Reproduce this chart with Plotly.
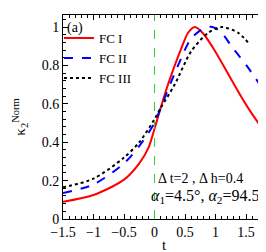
import plotly.graph_objects as go

t1 = [-1.5, -1.0, -0.5, -0.25, -0.1, 0.0, 0.1, 0.22, 0.44, 0.55, 0.66, 0.8, 1.0, 1.26, 1.53, 1.8]
fc1 = [0.09, 0.125, 0.205, 0.29, 0.37, 0.47, 0.578, 0.70, 0.89, 0.97, 1.0, 0.965, 0.87, 0.725, 0.58, 0.455]

t2 = [-1.5, -1.0, -0.5, -0.25, 0.0, 0.1, 0.385, 0.6, 0.82, 0.95, 1.1, 1.26, 1.53, 1.8]
fc2 = [0.135, 0.18, 0.29, 0.38, 0.50, 0.578, 0.80, 0.94, 0.995, 1.0, 0.97, 0.90, 0.79, 0.665]

t3 = [-1.5, -1.0, -0.5, -0.25, 0.0, 0.1, 0.33, 0.6, 0.88, 1.1, 1.37, 1.53]
fc3 = [0.165, 0.21, 0.32, 0.40, 0.52, 0.578, 0.70, 0.873, 0.97, 1.0, 0.97, 0.92]

FONT = "Liberation Serif"

fig = go.Figure()
fig.add_trace(go.Scatter(x=t1, y=fc1, mode="lines", name="FC I",
                         line=dict(color="#ff0000", width=2, shape="spline", smoothing=0.8)))
fig.add_trace(go.Scatter(x=t2, y=fc2, mode="lines", name="FC II",
                         line=dict(color="#0000ff", width=2, dash="dash", shape="spline", smoothing=0.8)))
fig.add_trace(go.Scatter(x=t3, y=fc3, mode="lines", name="FC III",
                         line=dict(color="#000000", width=2, dash="dot", shape="spline", smoothing=0.8)))

fig.add_shape(type="line", x0=0, x1=0, y0=0, y1=1, yref="paper",
              line=dict(color="#33cc33", width=1, dash="dash"))

fig.add_annotation(x=0.01, y=0.985, xref="paper", yref="paper", text="(a)",
                   showarrow=False, xanchor="left", yanchor="top",
                   font=dict(family=FONT, size=14, color="black"))
fig.add_annotation(x=0.68, y=0.2, xref="paper", yref="paper",
                   text="Δ t=2 , Δ h=0.4",
                   showarrow=False, xanchor="center", yanchor="middle",
                   font=dict(family=FONT, size=14, color="black"))
fig.add_annotation(x=1.015, y=0.11, xref="paper", yref="paper",
                   text="<i>α</i><sub>1</sub>=4.5°, <i>α</i><sub>2</sub>=94.5°",
                   showarrow=False, xanchor="right", yanchor="middle",
                   font=dict(family=FONT, size=16, color="black"))

axis_common = dict(showline=True, linecolor="black", linewidth=1, mirror="allticks",
                   ticks="inside", ticklen=5, tickcolor="black", showgrid=False,
                   zeroline=False, tickfont=dict(family=FONT, size=14, color="black"))

fig.update_xaxes(range=[-1.5, 1.81], dtick=0.5, tick0=0,
                 minor=dict(dtick=0.1, ticks="inside", ticklen=3, tickcolor="black"),
                 title=dict(text="t", font=dict(family=FONT, size=15, color="black"), standoff=0),
                 **axis_common)
fig.update_yaxes(range=[0, 1.0625], dtick=0.2, tick0=0,
                 minor=dict(dtick=0.04, ticks="inside", ticklen=3, tickcolor="black"),
                 title=dict(text="κ<sub>2</sub><sup>Norm</sup>", font=dict(family=FONT, size=15, color="black"), standoff=12),
                 **axis_common)

fig.update_layout(
    width=266, height=252,
    margin=dict(l=55, r=9, t=7, b=41),
    paper_bgcolor="white", plot_bgcolor="white",
    font=dict(family=FONT),
    showlegend=True,
    legend=dict(x=-0.02, y=0.96, xanchor="left", yanchor="top",
                bgcolor="rgba(0,0,0,0)", font=dict(family=FONT, size=13, color="black"),
                itemwidth=30, tracegroupgap=0),
)

fig.write_html("out.html")
